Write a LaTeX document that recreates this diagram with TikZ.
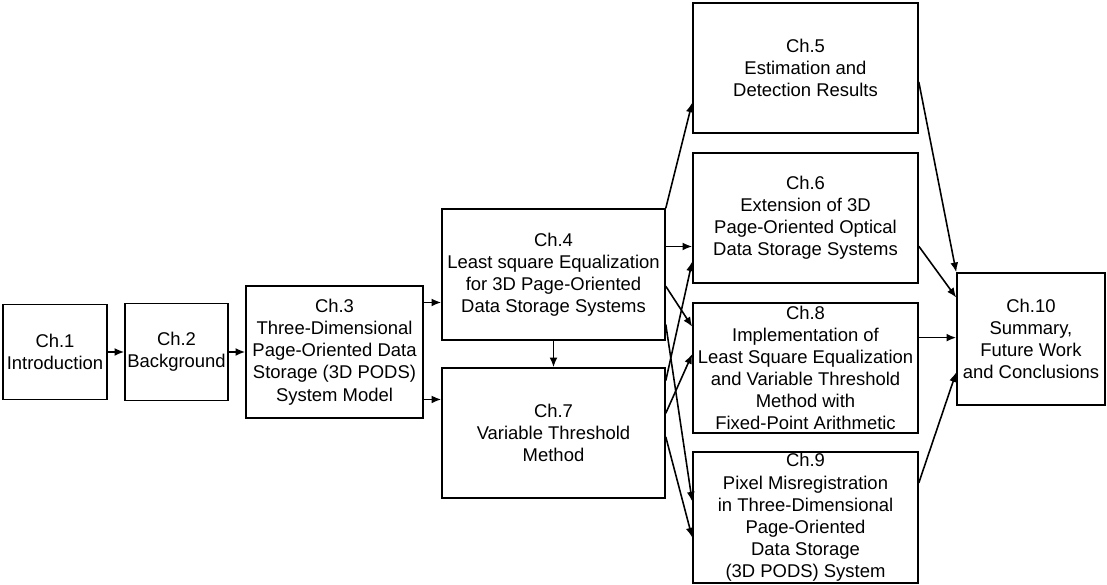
\documentclass[tikz,border=0pt]{standalone}
\usepackage{fontspec}
\setmainfont{Liberation Sans}
\usetikzlibrary {arrows.meta}

\begin{document}
\begin{tikzpicture}[line width=0.9pt, >={Latex[length=5.5pt,width=4.5pt]},
  chbox/.style={draw, align=center, inner sep=1pt,
    font=\fontsize{10.5}{12.6}\selectfont},
  chwide/.style={chbox, minimum width=4.5cm, minimum height=2.6cm}]

\useasboundingbox (0,0) rectangle (22.14,11.70);

\node [chbox, minimum width=2.08cm, minimum height=1.90cm] (Intro) at (1.10,4.66) {Ch.1\\Introduction};
\node [chbox, minimum width=2.06cm, minimum height=1.94cm] (Backgr) at (3.53,4.66) {Ch.2\\Background};
\node [chbox, minimum width=3.54cm, minimum height=2.64cm] (Model) at (6.69,4.66) {Ch.3\\Three-Dimensional\\Page-Oriented Data\\Storage (3D PODS)\\System Model};
\node [chbox, minimum width=4.46cm, minimum height=2.62cm] (LSE) at (11.07,6.21) {Ch.4\\Least square Equalization\\for 3D Page-Oriented\\Data Storage Systems};
\node [chbox, minimum width=4.46cm, minimum height=2.60cm] (VTM) at (11.07,3.04) {Ch.7\\Variable Threshold\\Method};

\node [chwide] (Results) at (16.11,10.34) {Ch.5\\Estimation and\\Detection Results};
\node [chwide] (Extension) at (16.11,7.34) {Ch.6\\Extension of 3D\\Page-Oriented Optical\\Data Storage Systems};
\node [chwide] (FixedPt) at (16.11,4.34) {Ch.8\\Implementation of\\Least Square Equalization\\and Variable Threshold\\Method with\\Fixed-Point Arithmetic};
\node [chwide] (Misreg) at (16.11,1.35) {Ch.9\\Pixel Misregistration\\in Three-Dimensional\\Page-Oriented\\Data Storage\\(3D PODS) System};
\node [chbox, minimum width=2.96cm, minimum height=2.64cm] (Summary) at (20.62,4.92) {Ch.10\\Summary,\\Future Work\\and Conclusions};

\draw [->] (Intro) -> (Backgr);
\draw [->] (Backgr) -> (Model);
\draw [->] (Model.29) -- (Model.29 -| LSE.west);
\draw [->] (Model.332.5) -- (Model.332.5 -| VTM.west);
\draw [->] (LSE) -> (VTM);

\draw [->] (LSE.north east) -- (Results.197.3);
\draw [->] (LSE.14.3) -- (LSE.14.3 -| Extension.west);
\draw [->] (LSE.354.6) -- (FixedPt.160);
\draw [->] (LSE.336.5) -- (Misreg.172.2);
\draw [->] (VTM.25.3) -- (Extension.201.4);
\draw [->] (VTM.10.6) -- (FixedPt.173.4);
\draw [->] (VTM.358) -- (Misreg.190.3);

\draw [->] (Results.353.9) -- (Summary.north west);
\draw [->] (Extension.346.5) -- (Summary.151);
\draw [->] (FixedPt.15.4) -- (FixedPt.15.4 -| Summary.west);
\draw [->] (Misreg.17.1) -- (Summary.204);

\end{tikzpicture}
\end{document}
